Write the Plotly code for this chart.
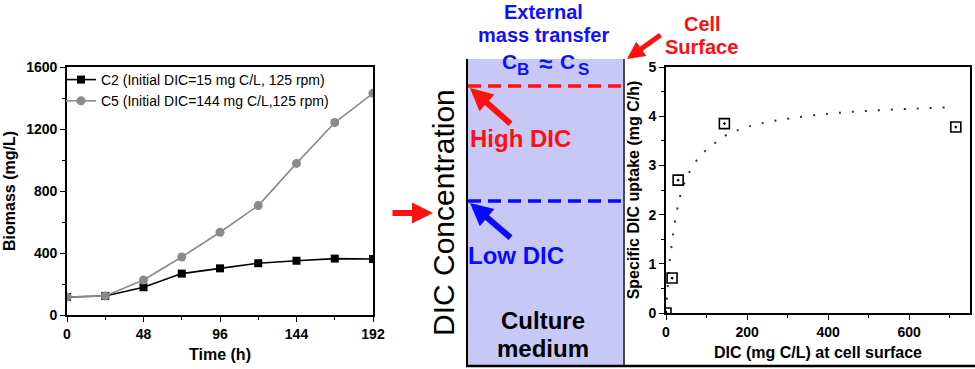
import plotly.graph_objects as go

# ---------------- data ----------------
time_h = [0, 24, 48, 72, 96, 120, 144, 168, 192]
biomass_c2 = [116, 123, 179, 267, 301, 334, 350, 364, 361]
biomass_c5 = [116, 123, 226, 374, 534, 706, 978, 1242, 1430]

dic_surface = [0, 15, 30, 144, 715]
dic_uptake = [0.0, 0.71, 2.70, 3.85, 3.78]

fit_x = [0, 3, 6, 10, 15, 20, 30, 40, 50, 60, 80, 100, 125, 150, 200, 250, 300, 400, 500, 600, 700]
fit_y = [0, 0.40, 0.75, 1.10, 1.45, 1.75, 2.20, 2.52, 2.72, 2.90, 3.15, 3.32, 3.48, 3.62, 3.78, 3.88,
         3.95, 4.05, 4.11, 4.15, 4.18]

left_xticks = [0, 48, 96, 144, 192]
left_yticks = [0, 400, 800, 1200, 1600]
right_xticks = [0, 200, 400, 600]
right_yticks = [0, 1, 2, 3, 4, 5]

W, H = 975, 369
FONT = "Liberation Sans, Arial, sans-serif"


def px(x):
    return x / W


def py(y):
    return 1 - y / H


fig = go.Figure()

fig.add_trace(go.Scatter(
    x=time_h, y=biomass_c2, mode="lines+markers",
    name="C2 (Initial DIC=15 mg C/L, 125 rpm)",
    line=dict(color="black", width=1.6),
    marker=dict(symbol="square", size=8, color="black"),
    xaxis="x", yaxis="y"))
fig.add_trace(go.Scatter(
    x=time_h, y=biomass_c5, mode="lines+markers",
    name="C5 (Initial DIC=144 mg C/L,125 rpm)",
    line=dict(color="#8a8a8a", width=1.6),
    marker=dict(symbol="circle", size=9, color="#8a8a8a"),
    xaxis="x", yaxis="y"))

fig.add_trace(go.Scatter(
    x=fit_x, y=fit_y, mode="lines", showlegend=False,
    line=dict(color="#333333", width=2, dash="2px,11px", shape="spline"),
    xaxis="x2", yaxis="y2"))
fig.add_trace(go.Scatter(
    x=dic_surface, y=dic_uptake, mode="markers", showlegend=False,
    marker=dict(symbol="square-open-dot", size=10, color="black", line=dict(width=1.6)),
    xaxis="x2", yaxis="y2"))

axis_common = dict(showline=True, linecolor="black", linewidth=1.6, mirror=True,
                   ticks="outside", ticklen=5, tickwidth=1.4, tickcolor="black",
                   showgrid=False, zeroline=False, automargin=False,
                   tickfont=dict(family=FONT, size=14, color="black", weight="bold"))

fig.update_layout(
    width=W, height=H,
    margin=dict(l=0, r=0, t=0, b=0),
    paper_bgcolor="white", plot_bgcolor="white",
    font=dict(family=FONT, color="black"),
    xaxis=dict(domain=[px(67), px(373)], range=[0, 192], tickvals=left_xticks,
               minor=dict(tickvals=[24, 72, 120, 168], ticks="outside", ticklen=3,
                          tickcolor="black", tickwidth=1.2),
               title=dict(text="Time (h)", standoff=8,
                          font=dict(family=FONT, size=16, color="black", weight="bold")),
               anchor="y", **axis_common),
    yaxis=dict(domain=[py(315), py(67)], range=[0, 1600], tickvals=left_yticks,
               minor=dict(tickvals=[200, 600, 1000, 1400], ticks="outside", ticklen=3,
                          tickcolor="black", tickwidth=1.2),
               title=dict(text="Biomass (mg/L)", standoff=7,
                          font=dict(family=FONT, size=16, color="black", weight="bold")),
               anchor="x", **axis_common),
    xaxis2=dict(domain=[px(666), px(970)], range=[0, 750], tickvals=right_xticks,
                minor=dict(tickvals=[100, 300, 500, 700], ticks="outside", ticklen=3,
                           tickcolor="black", tickwidth=1.2),
                title=dict(text="DIC (mg C/L) at cell surface", standoff=8,
                           font=dict(family=FONT, size=16, color="black", weight="bold")),
                anchor="y2", **axis_common),
    yaxis2=dict(domain=[py(313), py(67)], range=[0, 5], tickvals=right_yticks,
                minor=dict(tickvals=[0.5, 1.5, 2.5, 3.5, 4.5], ticks="outside", ticklen=3,
                           tickcolor="black", tickwidth=1.2),
                title=dict(text="Specific DIC uptake (mg C/h)", standoff=5,
                           font=dict(family=FONT, size=16, color="black", weight="bold")),
                anchor="x2", **axis_common),
    legend=dict(x=px(61), y=py(64), xanchor="left", yanchor="top",
                bgcolor="rgba(0,0,0,0)", font=dict(family=FONT, size=14, color="black"),
                tracegroupgap=0, itemwidth=30),
)

# ---------------- middle diagram ----------------
shapes = [
    dict(type="rect", xref="paper", yref="paper", x0=px(467), x1=px(624), y0=py(366), y1=py(59),
         fillcolor="#c8c8f7", line=dict(width=0), layer="below"),
    dict(type="line", xref="paper", yref="paper", x0=px(467), x1=px(467), y0=py(367), y1=py(59),
         line=dict(color="black", width=2)),
    dict(type="line", xref="paper", yref="paper", x0=px(624), x1=px(624), y0=py(367), y1=py(59),
         line=dict(color="#4a4a4a", width=2)),
    dict(type="line", xref="paper", yref="paper", x0=px(466), x1=px(975), y0=py(366), y1=py(366),
         line=dict(color="black", width=2.5)),
    dict(type="line", xref="paper", yref="paper", x0=px(468), x1=px(624), y0=py(86), y1=py(86),
         line=dict(color="#ff1010", width=3.5, dash="13px,7px")),
    dict(type="line", xref="paper", yref="paper", x0=px(468), x1=px(624), y0=py(201), y1=py(201),
         line=dict(color="#0a0aff", width=3.5, dash="13px,7px")),
]
fig.update_layout(shapes=shapes)


def txt(x, y, s, size, color, bold=True, angle=0):
    fig.add_annotation(x=px(x), y=py(y), xref="paper", yref="paper", text=s, showarrow=False,
                       xanchor="center", yanchor="middle", textangle=angle,
                       font=dict(family=FONT, size=size, color=color,
                                 weight="bold" if bold else "normal"))


def arrow(hx, hy, tx, ty, color, width, size):
    fig.add_annotation(x=px(hx), y=py(hy), xref="paper", yref="paper", text="",
                       showarrow=True, ax=tx - hx, ay=ty - hy, axref="pixel", ayref="pixel",
                       arrowhead=2, arrowwidth=width, arrowsize=size, arrowcolor=color)


txt(543, 12, "External", 20, "#1010ff")
txt(543, 35, "mass transfer", 20, "#1010ff")
txt(509, 61, "C", 21, "#1010ff")
txt(523, 69, "B", 17, "#1010ff")
txt(545, 63, "≈", 24, "#1010ff")
txt(567, 61, "C", 21, "#1010ff")
txt(583, 69, "S", 17, "#1010ff")

txt(702, 24, "Cell", 20, "#ff1010")
txt(701, 47, "Surface", 20, "#ff1010")

txt(520, 139, "High DIC", 24, "#ff1010")
txt(516, 255, "Low DIC", 24, "#0a0aff")
txt(543, 320, "Culture", 24, "black")
txt(543, 348, "medium", 24, "black")

txt(443, 213, "DIC Concentration", 30, "black", bold=False, angle=-90)

arrow(470, 88, 512, 125, "#ff1010", 6, 0.75)
arrow(470, 203, 512, 239, "#0a0aff", 6, 0.75)
arrow(433, 213, 391, 213, "#ff1010", 6, 0.7)
arrow(627, 59, 662, 34, "#ff1010", 5, 0.7)

fig.write_html("out.html", config={"displayModeBar": False},
               post_script="document.body.style.margin='0px';")
